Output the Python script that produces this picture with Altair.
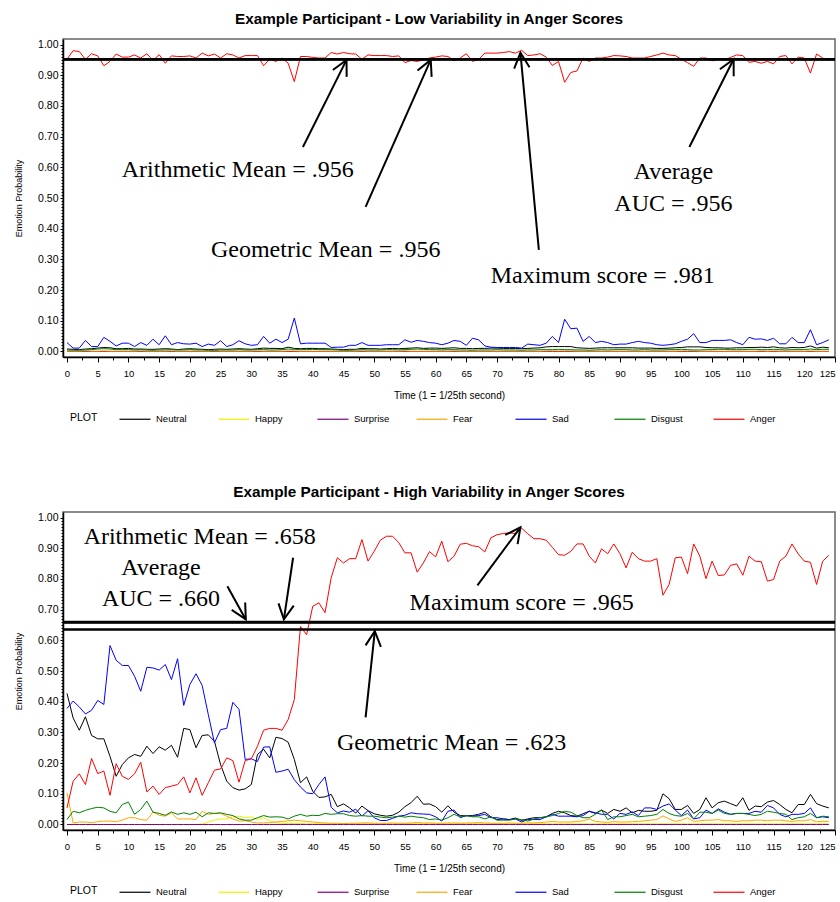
import math
import altair as alt
import pandas as pd

EMOTIONS = ["Neutral", "Happy", "Surprise", "Fear", "Sad", "Disgust", "Anger"]
COLORS = ["#000000", "#f0f000", "#800080", "#ffa500", "#0000ff", "#008000", "#ff0000"]
TIME = list(range(125))

# ---------------- Low variability participant ----------------
low_neutral = [
    0.008, 0.007, 0.006, 0.008, 0.009, 0.011, 0.013, 0.012, 0.009, 0.009,
    0.010, 0.008, 0.008, 0.007, 0.007, 0.008, 0.009, 0.008, 0.006, 0.008,
    0.009, 0.008, 0.007, 0.006, 0.007, 0.008, 0.007, 0.008, 0.009, 0.008,
    0.007, 0.009, 0.011, 0.010, 0.010, 0.009, 0.014, 0.010, 0.009, 0.010,
    0.010, 0.009, 0.009, 0.008, 0.007, 0.006, 0.007, 0.007, 0.010, 0.009,
    0.009, 0.008, 0.009, 0.010, 0.009, 0.010, 0.011, 0.012, 0.010, 0.011,
    0.011, 0.010, 0.011, 0.012, 0.010, 0.010, 0.009, 0.010, 0.010, 0.011,
    0.011, 0.010, 0.010, 0.010, 0.009, 0.010, 0.011, 0.012, 0.015, 0.016,
    0.016, 0.016, 0.016, 0.012, 0.011, 0.010, 0.011, 0.012, 0.012, 0.012,
    0.012, 0.012, 0.012, 0.011, 0.011, 0.011, 0.010, 0.010, 0.011, 0.012,
    0.013, 0.015, 0.015, 0.015, 0.013, 0.012, 0.012, 0.011, 0.011, 0.012,
    0.012, 0.013, 0.013, 0.014, 0.013, 0.015, 0.012, 0.011, 0.013, 0.012,
    0.013, 0.018, 0.011, 0.014, 0.012,
]
low_happy = [
    0.000, 0.000, 0.000, 0.000, 0.000, 0.000, 0.000, 0.000, 0.000, 0.000,
    0.000, 0.000, 0.000, 0.000, 0.000, 0.000, 0.000, 0.000, 0.000, 0.000,
    0.000, 0.000, 0.000, 0.000, 0.000, 0.000, 0.000, 0.000, 0.000, 0.000,
    0.000, 0.000, 0.000, 0.000, 0.000, 0.000, 0.000, 0.000, 0.000, 0.000,
    0.000, 0.000, 0.000, 0.000, 0.000, 0.000, 0.000, 0.000, 0.000, 0.000,
    0.000, 0.000, 0.000, 0.000, 0.000, 0.000, 0.000, 0.000, 0.000, 0.000,
    0.000, 0.000, 0.000, 0.000, 0.000, 0.000, 0.000, 0.000, 0.000, 0.000,
    0.000, 0.000, 0.000, 0.000, 0.000, 0.000, 0.000, 0.000, 0.000, 0.000,
    0.000, 0.000, 0.000, 0.000, 0.000, 0.000, 0.000, 0.000, 0.000, 0.000,
    0.000, 0.000, 0.000, 0.000, 0.000, 0.000, 0.000, 0.000, 0.000, 0.000,
    0.000, 0.000, 0.000, 0.000, 0.000, 0.000, 0.000, 0.000, 0.000, 0.000,
    0.000, 0.000, 0.000, 0.000, 0.000, 0.000, 0.000, 0.000, 0.000, 0.000,
    0.000, 0.000, 0.000, 0.000, 0.000,
]
low_surprise = [
    0.000, 0.000, 0.000, 0.000, 0.000, 0.000, 0.000, 0.000, 0.000, 0.000,
    0.000, 0.000, 0.000, 0.000, 0.000, 0.000, 0.000, 0.000, 0.000, 0.000,
    0.000, 0.000, 0.000, 0.000, 0.000, 0.000, 0.000, 0.000, 0.000, 0.000,
    0.000, 0.000, 0.000, 0.000, 0.000, 0.000, 0.000, 0.000, 0.000, 0.000,
    0.000, 0.000, 0.000, 0.000, 0.000, 0.000, 0.000, 0.000, 0.000, 0.000,
    0.000, 0.000, 0.000, 0.000, 0.000, 0.000, 0.000, 0.000, 0.000, 0.000,
    0.000, 0.000, 0.000, 0.000, 0.000, 0.000, 0.000, 0.000, 0.000, 0.000,
    0.000, 0.000, 0.000, 0.000, 0.000, 0.000, 0.000, 0.000, 0.000, 0.000,
    0.000, 0.000, 0.000, 0.000, 0.000, 0.000, 0.000, 0.000, 0.000, 0.000,
    0.000, 0.000, 0.000, 0.000, 0.000, 0.000, 0.000, 0.000, 0.000, 0.000,
    0.000, 0.000, 0.000, 0.000, 0.000, 0.000, 0.000, 0.000, 0.000, 0.000,
    0.000, 0.000, 0.000, 0.000, 0.000, 0.000, 0.000, 0.000, 0.000, 0.000,
    0.000, 0.000, 0.000, 0.000, 0.000,
]
low_fear = [
    0.001, 0.001, 0.001, 0.002, 0.001, 0.001, 0.002, 0.001, 0.001, 0.001,
    0.001, 0.001, 0.002, 0.001, 0.001, 0.001, 0.001, 0.002, 0.001, 0.001,
    0.001, 0.001, 0.001, 0.001, 0.002, 0.001, 0.001, 0.001, 0.001, 0.001,
    0.001, 0.002, 0.001, 0.001, 0.001, 0.001, 0.002, 0.002, 0.001, 0.001,
    0.001, 0.001, 0.001, 0.001, 0.001, 0.001, 0.001, 0.001, 0.002, 0.001,
    0.001, 0.001, 0.001, 0.001, 0.001, 0.002, 0.001, 0.001, 0.001, 0.001,
    0.001, 0.001, 0.001, 0.002, 0.001, 0.001, 0.001, 0.001, 0.001, 0.001,
    0.001, 0.001, 0.001, 0.001, 0.001, 0.001, 0.001, 0.001, 0.002, 0.002,
    0.002, 0.002, 0.002, 0.001, 0.001, 0.001, 0.001, 0.001, 0.001, 0.001,
    0.001, 0.001, 0.001, 0.001, 0.001, 0.001, 0.001, 0.001, 0.001, 0.001,
    0.002, 0.002, 0.002, 0.001, 0.001, 0.001, 0.001, 0.001, 0.001, 0.001,
    0.001, 0.001, 0.001, 0.002, 0.001, 0.002, 0.001, 0.001, 0.001, 0.001,
    0.001, 0.002, 0.001, 0.001, 0.001,
]
low_sad = [
    0.029, 0.011, 0.011, 0.036, 0.016, 0.016, 0.046, 0.033, 0.018, 0.027,
    0.027, 0.016, 0.029, 0.020, 0.040, 0.022, 0.051, 0.022, 0.029, 0.025,
    0.024, 0.027, 0.016, 0.024, 0.020, 0.035, 0.016, 0.022, 0.035, 0.025,
    0.020, 0.022, 0.049, 0.027, 0.040, 0.029, 0.040, 0.109, 0.025, 0.027,
    0.027, 0.027, 0.027, 0.013, 0.014, 0.014, 0.020, 0.020, 0.029, 0.020,
    0.020, 0.020, 0.022, 0.022, 0.022, 0.038, 0.030, 0.036, 0.033, 0.029,
    0.027, 0.022, 0.027, 0.036, 0.033, 0.020, 0.043, 0.038, 0.018, 0.014,
    0.013, 0.013, 0.013, 0.013, 0.011, 0.024, 0.022, 0.020, 0.027, 0.049,
    0.029, 0.105, 0.074, 0.076, 0.033, 0.049, 0.029, 0.033, 0.029, 0.022,
    0.024, 0.024, 0.029, 0.033, 0.029, 0.027, 0.022, 0.020, 0.022, 0.025,
    0.033, 0.040, 0.058, 0.029, 0.029, 0.036, 0.036, 0.036, 0.038, 0.029,
    0.022, 0.046, 0.040, 0.041, 0.036, 0.043, 0.025, 0.025, 0.046, 0.029,
    0.029, 0.071, 0.022, 0.029, 0.038,
]
low_disgust = [
    0.005, 0.004, 0.004, 0.005, 0.006, 0.008, 0.009, 0.008, 0.006, 0.006,
    0.006, 0.005, 0.006, 0.005, 0.004, 0.005, 0.005, 0.006, 0.005, 0.005,
    0.006, 0.005, 0.005, 0.004, 0.004, 0.005, 0.005, 0.005, 0.006, 0.005,
    0.005, 0.006, 0.006, 0.005, 0.005, 0.006, 0.008, 0.007, 0.006, 0.006,
    0.007, 0.006, 0.006, 0.006, 0.005, 0.004, 0.004, 0.005, 0.006, 0.005,
    0.005, 0.005, 0.006, 0.006, 0.005, 0.006, 0.007, 0.008, 0.007, 0.006,
    0.006, 0.005, 0.006, 0.006, 0.005, 0.005, 0.004, 0.005, 0.005, 0.005,
    0.006, 0.005, 0.005, 0.005, 0.004, 0.005, 0.005, 0.006, 0.006, 0.006,
    0.007, 0.006, 0.006, 0.005, 0.005, 0.004, 0.005, 0.006, 0.005, 0.006,
    0.006, 0.006, 0.005, 0.005, 0.006, 0.005, 0.005, 0.005, 0.006, 0.006,
    0.007, 0.006, 0.005, 0.005, 0.006, 0.006, 0.007, 0.007, 0.006, 0.006,
    0.006, 0.007, 0.007, 0.006, 0.006, 0.007, 0.006, 0.005, 0.006, 0.006,
    0.006, 0.008, 0.006, 0.007, 0.007,
]
low_anger = [
    0.952, 0.980, 0.977, 0.952, 0.970, 0.963, 0.931, 0.945, 0.969, 0.959,
    0.959, 0.966, 0.956, 0.970, 0.948, 0.967, 0.939, 0.963, 0.961, 0.961,
    0.963, 0.956, 0.972, 0.963, 0.969, 0.956, 0.970, 0.966, 0.956, 0.964,
    0.964, 0.964, 0.931, 0.952, 0.945, 0.956, 0.939, 0.879, 0.961, 0.961,
    0.958, 0.956, 0.956, 0.974, 0.969, 0.974, 0.970, 0.969, 0.952, 0.966,
    0.964, 0.964, 0.964, 0.961, 0.963, 0.941, 0.948, 0.945, 0.950, 0.956,
    0.959, 0.963, 0.961, 0.947, 0.956, 0.970, 0.945, 0.952, 0.972, 0.972,
    0.972, 0.974, 0.977, 0.972, 0.981, 0.964, 0.966, 0.970, 0.959, 0.932,
    0.945, 0.877, 0.909, 0.914, 0.956, 0.945, 0.956, 0.956, 0.959, 0.964,
    0.963, 0.961, 0.956, 0.956, 0.956, 0.961, 0.966, 0.972, 0.966, 0.964,
    0.952, 0.941, 0.929, 0.956, 0.956, 0.947, 0.952, 0.950, 0.958, 0.966,
    0.964, 0.942, 0.945, 0.939, 0.945, 0.937, 0.961, 0.964, 0.937, 0.959,
    0.956, 0.907, 0.969, 0.956, 0.948,
]

# ---------------- High variability participant ----------------
high_neutral = [
    0.427, 0.347, 0.307, 0.351, 0.290, 0.279, 0.279, 0.222, 0.157, 0.195,
    0.217, 0.228, 0.222, 0.255, 0.231, 0.253, 0.242, 0.258, 0.219, 0.313,
    0.309, 0.250, 0.290, 0.292, 0.271, 0.195, 0.141, 0.120, 0.112, 0.116,
    0.130, 0.228, 0.245, 0.217, 0.284, 0.280, 0.268, 0.212, 0.136, 0.155,
    0.108, 0.088, 0.090, 0.098, 0.058, 0.067, 0.054, 0.037, 0.060, 0.045,
    0.035, 0.030, 0.027, 0.030, 0.040, 0.058, 0.071, 0.092, 0.066, 0.067,
    0.058, 0.040, 0.061, 0.040, 0.029, 0.028, 0.029, 0.033, 0.040, 0.025,
    0.016, 0.018, 0.016, 0.021, 0.013, 0.018, 0.022, 0.022, 0.025, 0.036,
    0.043, 0.038, 0.029, 0.027, 0.035, 0.043, 0.036, 0.047, 0.036, 0.049,
    0.043, 0.054, 0.038, 0.046, 0.043, 0.043, 0.046, 0.100, 0.084, 0.049,
    0.049, 0.062, 0.036, 0.049, 0.087, 0.054, 0.071, 0.076, 0.068, 0.060,
    0.087, 0.046, 0.060, 0.058, 0.073, 0.078, 0.065, 0.049, 0.038, 0.065,
    0.065, 0.098, 0.068, 0.060, 0.054,
]
high_happy = [
    0.000, 0.000, 0.000, 0.000, 0.000, 0.000, 0.000, 0.000, 0.000, 0.000,
    0.000, 0.000, 0.000, 0.000, 0.000, 0.000, 0.000, 0.000, 0.000, 0.000,
    0.000, 0.000, 0.001, 0.008, 0.014, 0.018, 0.018, 0.025, 0.027, 0.022,
    0.025, 0.016, 0.022, 0.012, 0.006, 0.004, 0.003, 0.003, 0.003, 0.002,
    0.002, 0.002, 0.002, 0.002, 0.002, 0.002, 0.002, 0.002, 0.002, 0.002,
    0.002, 0.002, 0.002, 0.002, 0.002, 0.002, 0.002, 0.002, 0.002, 0.002,
    0.002, 0.002, 0.002, 0.002, 0.002, 0.002, 0.002, 0.002, 0.002, 0.002,
    0.002, 0.002, 0.002, 0.002, 0.002, 0.002, 0.002, 0.002, 0.002, 0.002,
    0.002, 0.002, 0.002, 0.002, 0.002, 0.002, 0.002, 0.002, 0.002, 0.002,
    0.002, 0.002, 0.002, 0.002, 0.002, 0.002, 0.002, 0.002, 0.002, 0.002,
    0.002, 0.002, 0.002, 0.002, 0.002, 0.002, 0.002, 0.002, 0.002, 0.002,
    0.002, 0.002, 0.002, 0.002, 0.002, 0.002, 0.002, 0.002, 0.002, 0.002,
    0.002, 0.002, 0.002, 0.002, 0.002,
]
high_surprise = [
    0.000, 0.000, 0.000, 0.000, 0.000, 0.000, 0.000, 0.000, 0.000, 0.000,
    0.000, 0.000, 0.000, 0.000, 0.000, 0.000, 0.000, 0.000, 0.000, 0.000,
    0.000, 0.000, 0.000, 0.000, 0.000, 0.000, 0.000, 0.000, 0.000, 0.000,
    0.000, 0.000, 0.000, 0.000, 0.000, 0.000, 0.000, 0.000, 0.000, 0.000,
    0.000, 0.000, 0.000, 0.000, 0.000, 0.000, 0.000, 0.000, 0.000, 0.000,
    0.000, 0.000, 0.000, 0.000, 0.000, 0.000, 0.000, 0.000, 0.000, 0.000,
    0.000, 0.000, 0.000, 0.000, 0.000, 0.000, 0.000, 0.000, 0.000, 0.000,
    0.000, 0.000, 0.000, 0.000, 0.000, 0.000, 0.000, 0.000, 0.000, 0.000,
    0.000, 0.000, 0.000, 0.000, 0.000, 0.000, 0.000, 0.000, 0.000, 0.000,
    0.000, 0.000, 0.000, 0.000, 0.000, 0.000, 0.000, 0.000, 0.000, 0.000,
    0.000, 0.000, 0.000, 0.000, 0.000, 0.000, 0.000, 0.000, 0.000, 0.000,
    0.000, 0.000, 0.000, 0.000, 0.000, 0.000, 0.000, 0.000, 0.000, 0.000,
    0.000, 0.000, 0.000, 0.000, 0.000,
]
high_fear = [
    0.103, 0.005, 0.008, 0.008, 0.006, 0.009, 0.011, 0.011, 0.009, 0.014,
    0.022, 0.022, 0.016, 0.014, 0.041, 0.030, 0.027, 0.038, 0.018, 0.018,
    0.018, 0.016, 0.043, 0.033, 0.036, 0.036, 0.027, 0.018, 0.011, 0.012,
    0.008, 0.005, 0.005, 0.006, 0.008, 0.010, 0.012, 0.014, 0.012, 0.010,
    0.008, 0.006, 0.005, 0.004, 0.004, 0.003, 0.004, 0.004, 0.005, 0.005,
    0.004, 0.004, 0.004, 0.005, 0.004, 0.004, 0.005, 0.006, 0.005, 0.005,
    0.004, 0.004, 0.005, 0.005, 0.004, 0.005, 0.005, 0.006, 0.005, 0.004,
    0.004, 0.004, 0.005, 0.004, 0.004, 0.005, 0.005, 0.006, 0.008, 0.010,
    0.008, 0.008, 0.008, 0.010, 0.012, 0.018, 0.010, 0.008, 0.007, 0.009,
    0.008, 0.008, 0.009, 0.010, 0.012, 0.014, 0.016, 0.028, 0.018, 0.010,
    0.014, 0.022, 0.010, 0.012, 0.014, 0.014, 0.016, 0.012, 0.012, 0.010,
    0.012, 0.012, 0.014, 0.014, 0.012, 0.014, 0.014, 0.012, 0.010, 0.012,
    0.012, 0.016, 0.009, 0.010, 0.010,
]
high_sad = [
    0.378, 0.402, 0.383, 0.360, 0.372, 0.404, 0.391, 0.583, 0.535, 0.518,
    0.518, 0.483, 0.434, 0.512, 0.510, 0.503, 0.521, 0.472, 0.540, 0.388,
    0.456, 0.491, 0.453, 0.358, 0.266, 0.309, 0.313, 0.398, 0.375, 0.212,
    0.214, 0.205, 0.252, 0.253, 0.170, 0.174, 0.180, 0.146, 0.122, 0.103,
    0.100, 0.130, 0.155, 0.056, 0.038, 0.044, 0.040, 0.050, 0.027, 0.045,
    0.022, 0.013, 0.013, 0.020, 0.027, 0.030, 0.038, 0.035, 0.034, 0.033,
    0.025, 0.011, 0.043, 0.047, 0.022, 0.029, 0.027, 0.029, 0.033, 0.022,
    0.022, 0.018, 0.016, 0.018, 0.008, 0.016, 0.016, 0.016, 0.025, 0.033,
    0.027, 0.027, 0.027, 0.025, 0.029, 0.043, 0.038, 0.033, 0.033, 0.018,
    0.036, 0.033, 0.041, 0.029, 0.054, 0.054, 0.049, 0.060, 0.067, 0.047,
    0.029, 0.047, 0.018, 0.022, 0.047, 0.036, 0.051, 0.040, 0.033, 0.036,
    0.036, 0.036, 0.043, 0.040, 0.062, 0.054, 0.033, 0.025, 0.033, 0.033,
    0.036, 0.054, 0.022, 0.025, 0.022,
]
high_disgust = [
    0.016, 0.043, 0.038, 0.046, 0.052, 0.056, 0.054, 0.043, 0.038, 0.065,
    0.073, 0.033, 0.049, 0.076, 0.040, 0.036, 0.030, 0.041, 0.033, 0.038,
    0.033, 0.040, 0.025, 0.038, 0.036, 0.038, 0.033, 0.029, 0.018, 0.014,
    0.014, 0.022, 0.029, 0.024, 0.025, 0.024, 0.018, 0.027, 0.033, 0.027,
    0.030, 0.029, 0.036, 0.033, 0.035, 0.035, 0.029, 0.027, 0.029, 0.027,
    0.027, 0.024, 0.022, 0.024, 0.027, 0.024, 0.027, 0.024, 0.022, 0.016,
    0.018, 0.014, 0.022, 0.033, 0.025, 0.029, 0.025, 0.025, 0.018, 0.025,
    0.014, 0.014, 0.014, 0.018, 0.016, 0.011, 0.018, 0.022, 0.025, 0.029,
    0.036, 0.043, 0.040, 0.029, 0.022, 0.022, 0.033, 0.047, 0.016, 0.025,
    0.025, 0.029, 0.033, 0.025, 0.027, 0.029, 0.033, 0.049, 0.036, 0.029,
    0.027, 0.036, 0.018, 0.040, 0.040, 0.036, 0.047, 0.036, 0.033, 0.036,
    0.036, 0.033, 0.029, 0.033, 0.043, 0.040, 0.036, 0.033, 0.016, 0.022,
    0.025, 0.036, 0.022, 0.027, 0.025,
]
high_anger = [
    0.054, 0.141, 0.165, 0.130, 0.215, 0.166, 0.174, 0.095, 0.198, 0.157,
    0.147, 0.165, 0.203, 0.106, 0.125, 0.098, 0.120, 0.125, 0.130, 0.155,
    0.103, 0.152, 0.095, 0.136, 0.177, 0.181, 0.217, 0.208, 0.138, 0.208,
    0.214, 0.255, 0.307, 0.313, 0.313, 0.307, 0.342, 0.407, 0.645, 0.618,
    0.711, 0.722, 0.690, 0.804, 0.869, 0.852, 0.866, 0.866, 0.928, 0.858,
    0.890, 0.926, 0.939, 0.939, 0.918, 0.885, 0.885, 0.822, 0.852, 0.889,
    0.872, 0.923, 0.856, 0.874, 0.913, 0.916, 0.908, 0.905, 0.888, 0.934,
    0.944, 0.948, 0.950, 0.948, 0.965, 0.947, 0.931, 0.931, 0.926, 0.903,
    0.879, 0.877, 0.890, 0.914, 0.914, 0.874, 0.852, 0.898, 0.882, 0.914,
    0.882, 0.836, 0.887, 0.866, 0.858, 0.858, 0.866, 0.747, 0.782, 0.869,
    0.871, 0.817, 0.914, 0.874, 0.801, 0.858, 0.811, 0.813, 0.844, 0.849,
    0.812, 0.874, 0.858, 0.856, 0.793, 0.798, 0.858, 0.874, 0.914, 0.882,
    0.858, 0.854, 0.782, 0.858, 0.877,
]

LOW = [low_neutral, low_happy, low_surprise, low_fear, low_sad, low_disgust, low_anger]
HIGH = [high_neutral, high_happy, high_surprise, high_fear, high_sad, high_disgust, high_anger]

# summary lines (arithmetic mean, geometric mean, average AUC)
LOW_REFS = [0.952, 0.952, 0.952]
HIGH_REFS = [0.658, 0.635, 0.660]

# annotation text (centre positions in data units)
LOW_LABELS = ["Arithmetic Mean = .956", "Geometric Mean = .956", "Maximum score = .981", "Average", "AUC = .956"]
LOW_LABEL_X = [27.8, 42.1, 87.2, 98.7, 98.7]
LOW_LABEL_Y = [0.592, 0.331, 0.247, 0.585, 0.481]
LOW_ARROW_X1 = [38.4, 48.6, 76.8, 101.3]
LOW_ARROW_Y1 = [0.666, 0.471, 0.331, 0.666]
LOW_ARROW_X2 = [45.5, 59.2, 73.8, 108.5]
LOW_ARROW_Y2 = [0.950, 0.950, 0.973, 0.952]

HIGH_LABELS = ["Arithmetic Mean = .658", "Average", "AUC = .660", "Maximum score = .965", "Geometric Mean = .623"]
HIGH_LABEL_X = [21.6, 15.3, 15.3, 74.0, 62.6]
HIGH_LABEL_Y = [0.935, 0.834, 0.736, 0.720, 0.267]
HIGH_ARROW_X1 = [26.1, 36.8, 48.6, 66.8]
HIGH_ARROW_Y1 = [0.776, 0.869, 0.349, 0.779]
HIGH_ARROW_X2 = [29.1, 35.3, 50.1, 73.8]
HIGH_ARROW_Y2 = [0.668, 0.668, 0.630, 0.968]

TITLES = ["Example Participant - Low Variability in Anger Scores",
          "Example Participant - High Variability in Anger Scores"]

# axis tick positions
X_MAJOR = [i * 5 for i in range(26)]
X_MINOR = [i * 5 + 2.5 for i in range(25)]
Y_MAJOR = [round(i * 0.1, 1) for i in range(11)]
Y_MINOR = [round(i * 0.01, 2) for i in range(101) if i % 10 != 0]

for s in LOW + HIGH:
    assert len(s) == len(TIME), len(s)

# ---------------- layout / style ----------------
W, H = 772, 318
XDOM = [-0.65, 125]
YDOM = [-0.018, 1.018]
PXX = W / (XDOM[1] - XDOM[0])
PXY = H / (YDOM[1] - YDOM[0])
SANS = "Liberation Sans"
SERIF = "Liberation Serif"
HEAD = "M -0.454 0.891 L 0 0 L 0.454 0.891"

xs = alt.Scale(domain=XDOM, nice=False, zero=False)
ys = alt.Scale(domain=YDOM, nice=False, zero=False)

x_axis = alt.Axis(
    values=X_MAJOR, format="d", tickSize=5,
    labelFontSize=9.5, labelPadding=6, labelFlush=True, labelOverlap=False,
    title="Time (1 = 1/25th second)", titleFontSize=10, titlePadding=13,
    grid=False, orient="bottom",
)
y_axis = alt.Axis(
    values=Y_MAJOR, format=".2f", tickSize=3,
    labelFontSize=10.5, labelPadding=2, labelOverlap=False,
    title="Emotion Probability", titleFontSize=9, titlePadding=14,
    grid=False, orient="left",
)
x_minor = alt.Axis(values=X_MINOR, tickSize=3, labels=False, domain=False,
                   title=None, grid=False, orient="bottom")
y_minor = alt.Axis(values=Y_MINOR, tickSize=2, labels=False, domain=False,
                   title=None, grid=False, orient="left")


def legend(y):
    return alt.Legend(
        orient="none", legendX=7, legendY=y, direction="horizontal", columns=7,
        title="PLOT", titleOrient="left", titleFontSize=10.5, titleFontWeight="normal",
        titlePadding=31, symbolType="M -3 0 L 3 0", symbolSize=107, symbolStrokeWidth=1.2,
        labelFontSize=9.5, labelOffset=15, columnPadding=24, gridAlign="all",
    )


def panel(series, refs, labels, lx, ly, ax1, ay1, ax2, ay2, title, legend_y):
    rows = []
    for name, vals in zip(EMOTIONS, series):
        for t, v in zip(TIME, vals):
            rows.append({"t": t, "v": v, "emotion": name})
    df = pd.DataFrame(rows)
    lines = alt.Chart(df).mark_line(strokeWidth=1).encode(
        x=alt.X("t:Q", scale=xs, axis=x_axis),
        y=alt.Y("v:Q", scale=ys, axis=y_axis),
        color=alt.Color("emotion:N", scale=alt.Scale(domain=EMOTIONS, range=COLORS),
                        sort=EMOTIONS, legend=legend(legend_y)),
    )
    ref = alt.Chart(pd.DataFrame({"v": refs})).mark_rule(color="black", strokeWidth=2.5).encode(
        y=alt.Y("v:Q", scale=ys, axis=None),
    )
    txt = alt.Chart(pd.DataFrame({"x": lx, "y": ly, "label": labels})).mark_text(
        font=SERIF, fontSize=24, color="black"
    ).encode(
        x=alt.X("x:Q", scale=xs, axis=x_minor),
        y=alt.Y("y:Q", scale=ys, axis=y_minor),
        text="label:N",
    )
    angles = []
    for a, b, c, d in zip(ax1, ay1, ax2, ay2):
        dx = (c - a) * PXX
        dy = -(d - b) * PXY
        angles.append(math.degrees(math.atan2(dx, -dy)) % 360)
    adf = pd.DataFrame({"x1": ax1, "y1": ay1, "x2": ax2, "y2": ay2, "ang": angles})
    shaft = alt.Chart(adf).mark_rule(color="black", strokeWidth=2).encode(
        x=alt.X("x1:Q", scale=xs, axis=None),
        y=alt.Y("y1:Q", scale=ys, axis=None),
        x2="x2:Q", y2="y2:Q",
    )
    head = alt.Chart(adf).mark_point(
        shape=HEAD, filled=False, color="black", strokeWidth=2, size=1156, opacity=1
    ).encode(
        x=alt.X("x2:Q", scale=xs, axis=None),
        y=alt.Y("y2:Q", scale=ys, axis=None),
        angle=alt.Angle("ang:Q", scale=None),
    )
    return alt.layer(lines, ref, shaft, head, txt).resolve_axis(
        x="independent", y="independent"
    ).properties(
        width=W, height=H,
        title=alt.TitleParams(title, fontSize=15.3, font=SANS, fontWeight="bold",
                              anchor="middle", offset=12, dx=-20, color="black"),
    )


top = panel(LOW, LOW_REFS, LOW_LABELS, LOW_LABEL_X, LOW_LABEL_Y,
            LOW_ARROW_X1, LOW_ARROW_Y1, LOW_ARROW_X2, LOW_ARROW_Y2, TITLES[0], 374)
bottom = panel(HIGH, HIGH_REFS, HIGH_LABELS, HIGH_LABEL_X, HIGH_LABEL_Y,
               HIGH_ARROW_X1, HIGH_ARROW_Y1, HIGH_ARROW_X2, HIGH_ARROW_Y2, TITLES[1], 374)

chart = alt.vconcat(top, bottom, spacing=58).resolve_scale(
    color="independent", x="independent", y="independent"
).resolve_legend(color="independent").properties(
    padding={"left": 13, "top": 10, "right": 0, "bottom": 0}
).configure_view(
    stroke="#666666", strokeWidth=1.5
).configure_axis(
    labelFont=SANS, titleFont=SANS, labelColor="black", titleColor="black",
    tickColor="black", domainColor="black", domainWidth=1.5, tickWidth=1,
    titleFontWeight="normal",
).configure_legend(
    labelFont=SANS, titleFont=SANS, labelColor="black", titleColor="black",
).configure_title(font=SANS)

chart.save("out.html", embed_options={"renderer": "svg", "actions": False})
